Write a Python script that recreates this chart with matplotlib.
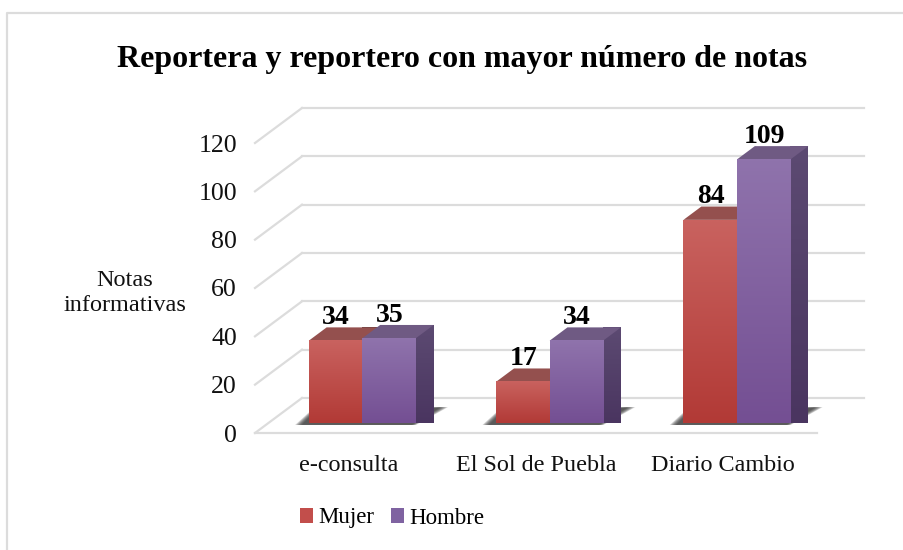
import numpy as np
import matplotlib
matplotlib.use('Agg')
import matplotlib.pyplot as plt
from matplotlib.patches import Polygon, Patch

plt.rcParams['font.family'] = ['Liberation Serif', 'DejaVu Serif']

categorias = ['e-consulta', 'El Sol de Puebla', 'Diario Cambio']
mujer = [34, 17, 84]
hombre = [35, 34, 109]
yticks = [0, 20, 40, 60, 80, 100, 120]

W, H = 904, 550
fig = plt.figure(figsize=(W / 100, H / 100), dpi=100)
# el eje es el plano frontal del grafico
ax = fig.add_axes([255 / W, 1 - 433 / H, 562 / W, 290 / H])
ax.set_xlim(0, 3)
ax.set_ylim(0, 120)

# profundidad: cuanto se mueve en datos de frente (0) a fondo (1)
px_x = 562 / 3
px_y = 290 / 120
DX = 47 / px_x
DY = 35 / px_y


def proy(x, y, d):
    return (x + DX * d, y + DY * d)


def degradado(ax, c1, c2, extent, clip=None, z=5):
    # c1 arriba, c2 abajo
    c1 = np.array(matplotlib.colors.to_rgb(c1))
    c2 = np.array(matplotlib.colors.to_rgb(c2))
    t = np.linspace(0, 1, 64)[:, None, None]
    img = c1[None, None, :] * (1 - t) + c2[None, None, :] * t
    im = ax.imshow(img, extent=extent, aspect='auto', origin='upper', zorder=z,
                   interpolation='bilinear', clip_on=False)
    if clip is not None:
        poly = Polygon(clip, closed=True, transform=ax.transData, fc='none', ec='none')
        ax.add_patch(poly)
        im.set_clip_path(poly)
    return im


GRID = '#dcdcdc'
for v in yticks:
    # pared del fondo y pared izquierda
    a = proy(0, v, 1)
    b = proy(3, v, 1)
    c = proy(0, v, 0)
    ax.plot([a[0], b[0]], [a[1], b[1]], color=GRID, lw=1.6, clip_on=False, zorder=1)
    ax.plot([c[0], a[0]], [c[1], a[1]], color=GRID, lw=1.6, clip_on=False, zorder=1)
ax.plot([0, 3], [0, 0], color=GRID, lw=1.6, clip_on=False, zorder=1)

D0 = 0.29
D1 = 0.67
ANCHO = 0.2856


def sombra(x0, x1):
    # sombra sobre el piso, capas que se encogen para que parezca difusa
    pts = np.array([proy(x0 - 0.058, 0, 0.23), proy(x0 - 0.075, 0, 0.60),
                    proy(x1 + 0.059, 0, 0.74), proy(x1 + 0.016, 0, 0.23)])
    cen = pts.mean(axis=0)
    for k in [1.0, 0.985, 0.97, 0.955, 0.94, 0.925, 0.91]:
        capa = cen + (pts - cen) * [k, 1.0]
        ax.add_patch(Polygon(capa, closed=True, fc='#303030', ec='none', alpha=0.2,
                             clip_on=False, zorder=2))


def barra(xc, val, frente, lado, tapa, z):
    x0, x1 = xc - ANCHO, xc
    if frente[2] == 'der':
        x0, x1 = xc, xc + ANCHO
    p0 = proy(x0, 0, D0)
    p1 = proy(x1, val, D0)
    degradado(ax, frente[0], frente[1], (p0[0], p1[0], p0[1], p1[1]), z=z)
    # cara lateral
    q0 = proy(x1, 0, D1)
    q1 = proy(x1, val, D1)
    lat = [(p1[0], p0[1]), q0, q1, p1]
    degradado(ax, lado[0], lado[1], (p1[0], q0[0], p0[1], q1[1]), clip=lat, z=z - 0.1)
    # tapa
    tp = [(p0[0], p1[1]), p1, q1, proy(x0, val, D1)]
    ax.add_patch(Polygon(tp, closed=True, fc=tapa, ec='none', clip_on=False, zorder=z - 0.1))


for i in range(len(categorias)):
    xc = i + 0.5
    sombra(xc - ANCHO, xc + ANCHO)
for i, (m, h) in enumerate(zip(mujer, hombre)):
    xc = i + 0.5
    barra(xc, m, ('#C9625F', '#B23A36', 'izq'), ('#5a3a3a', '#4a2a2a'), '#94504E', 5)
    barra(xc, h, ('#8F73AC', '#744F93', 'der'), ('#5C4A72', '#4A3560'), '#6F5A83', 6)
    for val, xl in ((m, xc - ANCHO / 2), (h, xc + ANCHO / 2)):
        px, py = proy(xl, val, D0)
        ax.annotate(str(val), (px, py), xytext=(0.5, 11.8), textcoords='offset points',
                    ha='center', va='baseline', fontsize=20, fontweight='bold',
                    color='black', zorder=10, annotation_clip=False)

ax.set_xlim(0, 3)
ax.set_ylim(0, 120)
for s in ax.spines.values():
    s.set_visible(False)
ax.patch.set_alpha(0)
ax.set_xticks([0.5, 1.5, 2.5])
ax.set_xticklabels(categorias, fontsize=17.4, color='#111111')
ax.set_yticks(yticks)
ax.set_yticklabels([str(v) for v in yticks], fontsize=18.6, color='#111111')
ax.tick_params(axis='both', length=0)
ax.tick_params(axis='x', pad=15.5)
ax.tick_params(axis='y', pad=13)

fig.text(125 / W, 1 - 293 / H, 'Notas\ninformativas', ha='center', va='center',
         fontsize=17.5, color='#111111', linespacing=1.3)
fig.text(462 / W, 1 - 60 / H, 'Reportera y reportero con mayor número de notas',
         ha='center', va='center', fontsize=23, fontweight='bold', color='black')

ley = [Patch(fc='#C24E4B', ec='none', label='Mujer'), Patch(fc='#7F63A1', ec='none', label='Hombre')]
fig.legend(handles=ley, loc='center', bbox_to_anchor=(392 / W, 1 - 518 / H), ncol=2, frameon=False,
           fontsize=16.5, handlelength=0.58, handleheight=0.58, handletextpad=0.2, columnspacing=0.75)

# marco exterior: solo se ve arriba y a la izquierda
fig.add_artist(plt.Line2D([7 / W, 7 / W, 1], [0, 1 - 12.5 / H, 1 - 12.5 / H], transform=fig.transFigure,
                          color='#dcdcdc', lw=1.6))

fig.savefig('out.png', dpi=100)
